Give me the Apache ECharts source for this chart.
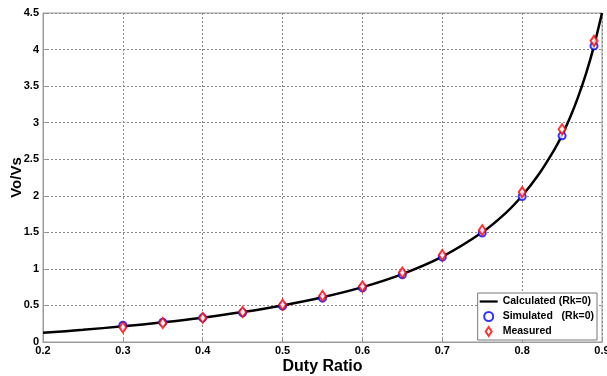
<!DOCTYPE html>
<html>
<head>
<meta charset="utf-8">
<script src="https://cdn.jsdelivr.net/npm/echarts@6/dist/echarts.min.js"></script>
<style>
  html,body{margin:0;padding:0;background:#fff;}
  #chartDiv{width:607px;height:376px;}
</style>
</head>
<body>
<div id="chartDiv"></div>
<script>
// calculated curve (Rk=0)
var calcX = [0.2, 0.25, 0.3, 0.35, 0.4, 0.45, 0.5, 0.55, 0.6, 0.65, 0.7, 0.75, 0.78, 0.8, 0.82, 0.84, 0.85, 0.86, 0.87, 0.88, 0.89, 0.9];
var calcY = [0.125, 0.167, 0.214, 0.269, 0.333, 0.409, 0.5, 0.611, 0.75, 0.929, 1.167, 1.5, 1.77, 2.0, 2.28, 2.625, 2.83, 3.07, 3.35, 3.67, 4.05, 4.5];
// duty ratios of the markers
var dutyX = [0.3, 0.35, 0.4, 0.45, 0.5, 0.55, 0.6, 0.65, 0.7, 0.75, 0.8, 0.85, 0.89];
var simY  = [0.23, 0.27, 0.33, 0.40, 0.49, 0.60, 0.74, 0.92, 1.16, 1.49, 1.99, 2.82, 4.05];
var measY = [0.20, 0.26, 0.33, 0.41, 0.51, 0.63, 0.76, 0.95, 1.19, 1.53, 2.05, 2.91, 4.12];

function pairs(xs, ys){
	var out = [];
	for(var i = 0; i < xs.length; i++){
		out.push([xs[i], ys[i]]);
	}
	return out;
}

var font = 'Liberation Sans, Arial, sans-serif';
var option = {
	animation: false,
	grid: {
		left: 43, right: 5, top: 13, bottom: 34,
		containLabel: false,
		outerBoundsMode: 'none',
		show: true, borderColor: '#9a9a9a', borderWidth: 1
	},
	legend: {
		orient: 'vertical',
		right: 10, bottom: 36,
		backgroundColor: '#fff',
		borderColor: '#777', borderWidth: 1,
		padding: [3, 3, 3, 2],
		itemGap: 4,
		itemWidth: 18, itemHeight: 9,
		symbolKeepAspect: true,
		textStyle: {fontFamily: font, fontWeight: 'bold', fontSize: 10.5, color: '#000'},
		data: [
			{name: 'Calculated (Rk=0)', icon: 'path://M0,0 L20,0 L20,2.5 L0,2.5 Z', itemStyle: {color: '#000'}},
			{name: 'Simulated   (Rk=0)', icon: 'circle', itemStyle: {color: '#fff', borderColor: '#0000ff', borderWidth: 2}},
			{name: 'Measured', icon: 'path://M4,0 L8,6 L4,12 L0,6 Z', itemStyle: {color: '#fff', borderColor: '#ff0000', borderWidth: 2}}
		]
	},
	xAxis: {
		type: 'value',
		min: 0.2, max: 0.9, interval: 0.1,
		name: 'Duty Ratio',
		nameLocation: 'middle',
		nameGap: 17,
		nameMoveOverlap: false,
		nameTextStyle: {fontFamily: font, fontWeight: 'bold', fontSize: 16, color: '#000'},
		axisLine: {lineStyle: {color: '#9a9a9a'}},
		axisTick: {inside: true, length: 4, lineStyle: {color: '#9a9a9a'}},
		axisLabel: {
			margin: 3,
			fontFamily: font, fontWeight: 'bold', fontSize: 11, color: '#000',
			formatter: function(v){ return v.toFixed(1); }
		},
		splitLine: {show: true, lineStyle: {color: '#888', type: [2, 2], width: 1}}
	},
	yAxis: {
		type: 'value',
		min: 0, max: 4.5, interval: 0.5,
		name: 'Vo/Vs',
		nameLocation: 'middle',
		nameGap: 19,
		nameMoveOverlap: false,
		nameTextStyle: {fontFamily: font, fontWeight: 'bold', fontSize: 15, color: '#000'},
		axisLine: {show: true, lineStyle: {color: '#9a9a9a'}},
		axisTick: {show: true, inside: true, length: 4, lineStyle: {color: '#9a9a9a'}},
		axisLabel: {
			margin: 4,
			fontFamily: font, fontWeight: 'bold', fontSize: 11, color: '#000'
		},
		splitLine: {show: true, lineStyle: {color: '#888', type: [2, 2], width: 1}}
	},
	series: [
		{
			name: 'Calculated (Rk=0)',
			type: 'line',
			smooth: 0.3,
			showSymbol: false,
			symbol: 'none',
			lineStyle: {color: '#000', width: 2.5},
			itemStyle: {color: '#000'},
			data: pairs(calcX, calcY),
			z: 3
		},
		{
			name: 'Simulated   (Rk=0)',
			type: 'scatter',
			symbol: 'emptyCircle',
			symbolSize: 7,
			itemStyle: {color: '#0000ff', borderColor: '#0000ff', borderWidth: 2},
			data: pairs(dutyX, simY),
			z: 4
		},
		{
			name: 'Measured',
			type: 'scatter',
			symbol: 'emptyDiamond',
			symbolSize: [7, 10],
			itemStyle: {color: '#ff0000', borderColor: '#ff0000', borderWidth: 2},
			data: pairs(dutyX, measY),
			z: 5
		}
	]
};
var myChart = echarts.init(document.getElementById('chartDiv'));
myChart.setOption(option, true);
</script>
</body>
</html>
